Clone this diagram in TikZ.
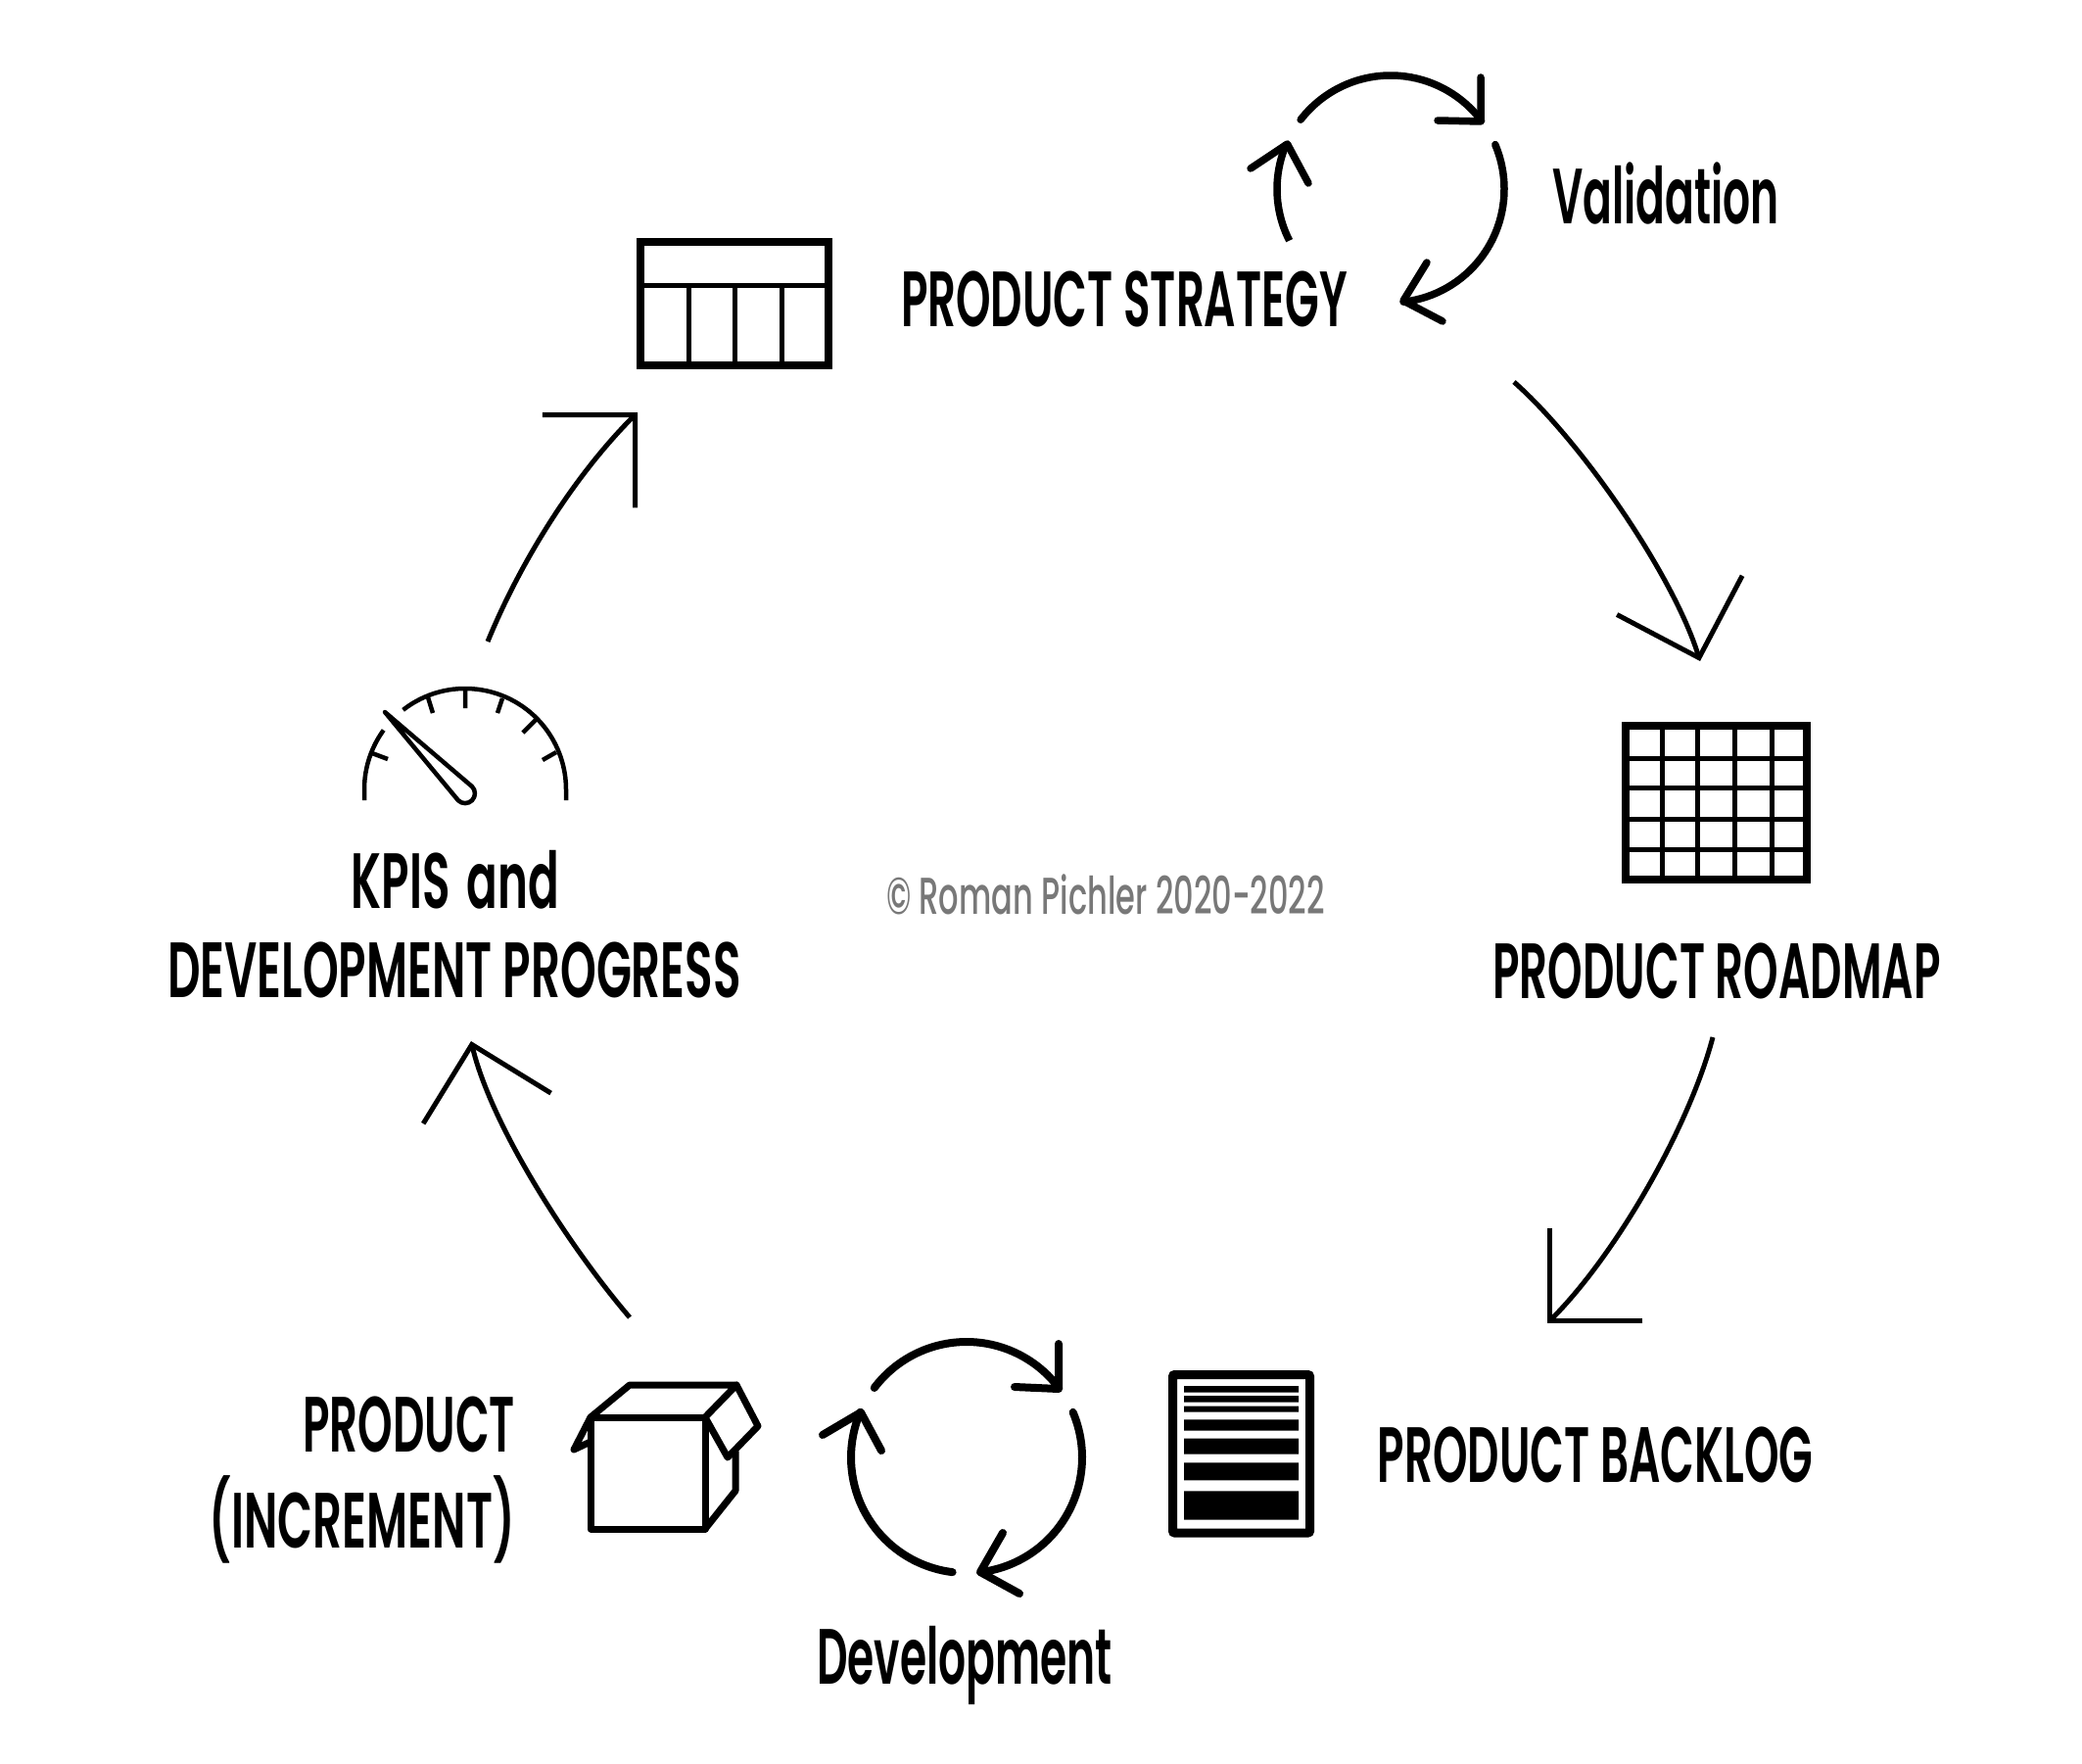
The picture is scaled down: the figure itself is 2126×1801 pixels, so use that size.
\documentclass[tikz,border=0pt]{standalone}
\usepackage{fontspec}
\usetikzlibrary{arrows.meta}
\newfontfamily\lab[FakeStretch=0.55]{Poppins SemiBold}
\newfontfamily\labm[FakeStretch=0.565]{Poppins SemiBold}
\newfontfamily\labw[FakeStretch=0.585]{Poppins SemiBold}
\newfontfamily\labc[FakeStretch=0.605]{Poppins Medium}
\definecolor{copygray}{gray}{0.47}
\tikzset{
  big/.style={font=\lab\fontsize{80}{80}\selectfont,anchor=base,inner sep=0pt,text=black},
  bigm/.style={big,font=\labm\fontsize{80}{80}\selectfont},
  bigw/.style={big,font=\labw\fontsize{80}{80}\selectfont},
  copyr/.style={font=\labc\fontsize{53}{53}\selectfont,anchor=base,inner sep=0pt,text=copygray},
  cyc/.style={line width=8pt,line cap=round,line join=round},
  cycv/.style={line width=7.5pt,line cap=round,line join=round},
  flow/.style={line width=5pt,-{Straight Barb[length=67pt,width=134pt,line width=5pt]}},
  frame/.style={line width=8pt,miter limit=10},
  thin grid/.style={line width=5pt},
  gauge/.style={line width=4.5pt},
  boxline/.style={line width=7pt,line join=round,line cap=round},
}
\begin{document}
\begin{tikzpicture}[x=1pt,y=-1pt]
\useasboundingbox (0,0) rectangle (2126,1801);
% labels
\node[bigm] (strategy) at (1148,333) {PRODUCT STRATEGY};
\node[big] (validation) at (1701,228) {Validation};
\node[bigm] (roadmap) at (1753,1019) {PRODUCT ROADMAP};
\node[bigm] (backlog) at (1629,1513) {PRODUCT BACKLOG};
\node[big] (development) at (985,1719) {Development};
\node[bigm,anchor=base east] (product) at (526,1482) {PRODUCT};
\node[bigw,anchor=base east] (increment) at (526,1580) {(INCREMENT)};
\node[bigw] (kpis) at (465,927) {KPIS\hspace{6pt} and};
\node[bigw] (devprog) at (464,1018) {DEVELOPMENT PROGRESS};
\node[copyr] (copy) at (1129,933) {© Roman Pichler 2020-2022};
% strategy table
\draw[frame] (654,247) rectangle (846,373);
\draw[thin grid] (654,291) -- (846,291) (703,291) -- (703,373) (750,291) -- (750,373) (798,291) -- (798,373);
% roadmap grid
\draw[frame] (1660,741) rectangle (1845,898);
\draw[thin grid] (1697,741) -- (1697,898) (1733,741) -- (1733,898) (1771,741) -- (1771,898) (1809,741) -- (1809,898)
  (1660,774) -- (1845,774) (1660,804) -- (1845,804) (1660,836) -- (1845,836) (1660,867) -- (1845,867);
% backlog
\draw[line width=9pt,rounded corners=2pt] (1197.5,1403.5) rectangle (1337.5,1565);
\fill (1209,1415) rectangle (1326,1421.7) (1209,1425) rectangle (1326,1431.7) (1209,1435.7) rectangle (1326,1441.7)
  (1209,1449.3) rectangle (1326,1460.7) (1209,1468.7) rectangle (1326,1484.7) (1209,1493.3) rectangle (1326,1511.3)
  (1209,1522.3) rectangle (1326,1551.7);
% box
\draw[boxline] (603,1447) rectangle (720,1561);
\draw[boxline] (603,1447) -- (643,1414) -- (752,1414) -- (720,1447);
\draw[boxline] (720,1561) -- (751,1522) -- (751,1482);
\draw[boxline] (720,1447) -- (743,1488) -- (774,1456) -- (752,1414);
\draw[boxline] (603,1447) -- (586,1480) -- (603,1472);
% gauge
\coordinate (gc) at (475,806);
\draw[gauge] (372,817) -- (372,806) arc[start angle=180,end angle=216,radius=103];
\draw[gauge] (gc) ++(232:103) arc[start angle=232,end angle=360,radius=103] -- (578,817);
\draw[gauge] (380,769) -- (396,775) (437,712) -- (442,728) (475,705) -- (475,723) (513,713) -- (508,728) (547,735) -- (534,748) (568,768) -- (554,776);
\draw[gauge,line join=round] (393,727) -- (482,803) arc[start angle=-45,end angle=135,radius=10] -- cycle;
% flow connectors
\coordinate (a1s) at (1546,390);
\coordinate (a1e) at (1736,675);
\coordinate (a2s) at (1749,1059);
\coordinate (a2e) at (1580,1351);
\coordinate (a3s) at (643,1345);
\coordinate (a3e) at (481,1063);
\coordinate (a4s) at (498,655);
\coordinate (a4e) at (651,421);
\draw[flow] (a1s) .. controls (1616,452) and (1709,588) .. (a1e);
\draw[flow] (a2s) .. controls (1725,1150) and (1651,1280) .. (a2e);
\draw[flow] (a3s) .. controls (583,1275) and (502,1151) .. (a3e);
\draw[flow] (a4s) .. controls (533,570) and (588,484) .. (a4e);
% validation cycle
\coordinate (vc) at (1420,193);
\draw[cycv] (vc) ++(217.6:116) arc[start angle=217.6,end angle=323,radius=116];
\draw[cycv] (1512,79) -- (1512,124) -- (1468,123);
\draw[cycv] (vc) ++(-23:116) arc[start angle=-23,end angle=83.5,radius=116];
\draw[cycv] (1457,268) -- (1433,307) -- (1473,328);
\draw[cycv,line cap=butt] (vc) ++(153:116) arc[start angle=153,end angle=203.6,radius=116];
\draw[cycv] (1277,172) -- (1314.5,147) -- (1336,187);
% development cycle
\coordinate (dc) at (987,1488);
\draw[cyc] (dc) ++(217:118) arc[start angle=217,end angle=323,radius=118];
\draw[cyc] (1081,1372) -- (1081,1418) -- (1036,1416);
\draw[cyc] (dc) ++(-23:118) arc[start angle=-23,end angle=83,radius=118];
\draw[cyc] (1024,1565) -- (1001,1605) -- (1041,1627);
\draw[cyc] (dc) ++(97:118) arc[start angle=97,end angle=203,radius=118];
\draw[cyc] (840,1465) -- (879,1442) -- (900,1481);
\end{tikzpicture}
\end{document}
